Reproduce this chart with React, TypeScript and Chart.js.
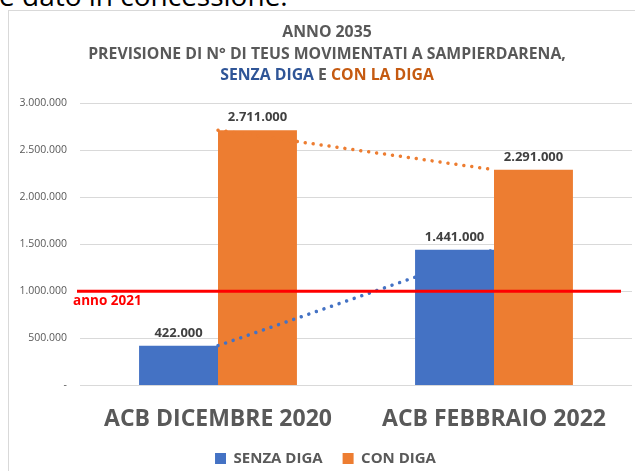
import React, { useEffect, useRef } from 'react';
import { Chart, registerables } from 'chart.js';

Chart.register(...registerables);

const categories = ['ACB DICEMBRE 2020', 'ACB FEBBRAIO 2022'];
const seriesNames = ['SENZA DIGA', 'CON DIGA'];
const senzaDiga = [422000, 1441000];
const conDiga = [2711000, 2291000];
const yTickLabels = ['-', '500.000', '1.000.000', '1.500.000', '2.000.000', '2.500.000', '3.000.000'];
const yMax = 3000000;
const yStep = 500000;
const refLineValue = 1000000;
const refLineLabel = 'anno 2021';
const titleLines = ['ANNO 2035', 'PREVISIONE DI N° DI TEUS MOVIMENTATI A SAMPIERDARENA,'];
const subtitleParts: [string, string][] = [
  ['SENZA DIGA', '#2F5597'],
  [' E ', '#595959'],
  ['CON LA DIGA', '#C55A11'],
];
const pageHeading = 'e dato in concessione.';

const FONT = "'Open Sans', 'DejaVu Sans', sans-serif";
const BLUE = '#4472C4';
const ORANGE = '#ED7D31';
const GRAY = '#595959';

function fmt(v: number): string {
  return String(Math.round(v)).replace(/\B(?=(\d{3})+(?!\d))/g, '.');
}

export default function App() {
  const ref = useRef<HTMLCanvasElement>(null);

  useEffect(() => {
    document.body.style.margin = '0';
    const canvas = ref.current;
    if (!canvas) return;

    const overlay = {
      id: 'overlay',
      afterDatasetsDraw(chart: any) {
        const ctx = chart.ctx;
        const { chartArea, scales } = chart;
        const y = scales.y.getPixelForValue(refLineValue);
        ctx.save();
        ctx.strokeStyle = '#FF0000';
        ctx.lineWidth = 3;
        ctx.beginPath();
        ctx.moveTo(chartArea.left - 3, y);
        ctx.lineTo(chartArea.right - 11, y);
        ctx.stroke();
        ctx.fillStyle = '#FF0000';
        ctx.font = `bold 13.5px ${FONT}`;
        ctx.textAlign = 'left';
        ctx.textBaseline = 'alphabetic';
        ctx.fillText(refLineLabel, chartArea.left - 7, y + 13.5);
        ctx.fillStyle = '#404040';
        ctx.font = `bold 13px ${FONT}`;
        ctx.textAlign = 'center';
        [0, 1].forEach((di) => {
          const meta = chart.getDatasetMeta(di);
          meta.data.forEach((bar: any, i: number) => {
            const val = chart.data.datasets[di].data[i] as number;
            ctx.fillText(fmt(val), bar.x, bar.y - 9);
          });
        });
        ctx.restore();
      },
      afterDraw(chart: any) {
        const ctx = chart.ctx;
        const cx = 318;
        ctx.save();
        ctx.textBaseline = 'alphabetic';
        ctx.font = `bold 15.8px ${FONT}`;
        ctx.fillStyle = GRAY;
        ctx.textAlign = 'center';
        const ys = [20.7, 42.3, 63];
        titleLines.forEach((t, i) => ctx.fillText(t, cx, ys[i] + 5.6));
        const widths = subtitleParts.map(([t]) => ctx.measureText(t).width);
        const total = widths.reduce((a, b) => a + b, 0);
        let x = cx - total / 2;
        ctx.textAlign = 'left';
        subtitleParts.forEach(([t, c], i) => {
          ctx.fillStyle = c;
          ctx.fillText(t, x, ys[2] + 5.6);
          x += widths[i];
        });
        ctx.restore();
      },
    };

    const chart = new Chart(canvas, {
      type: 'bar',
      data: {
        labels: categories,
        datasets: [
          {
            type: 'bar',
            label: seriesNames[0],
            data: senzaDiga,
            backgroundColor: BLUE,
            borderWidth: 0,
            order: 1,
            categoryPercentage: 0.572,
            barPercentage: 1,
          },
          {
            type: 'bar',
            label: seriesNames[1],
            data: conDiga,
            backgroundColor: ORANGE,
            borderWidth: 0,
            order: 3,
            categoryPercentage: 0.572,
            barPercentage: 1,
          },
          {
            type: 'line',
            label: 'trend1',
            data: senzaDiga,
            borderColor: BLUE,
            borderWidth: 3.5,
            borderDash: [0.01, 8],
            borderCapStyle: 'round',
            pointRadius: 0,
            fill: false,
            order: 2,
          },
          {
            type: 'line',
            label: 'trend2',
            data: conDiga,
            borderColor: ORANGE,
            borderWidth: 3.5,
            borderDash: [0.01, 8],
            borderCapStyle: 'round',
            pointRadius: 0,
            fill: false,
            order: 2,
          },
        ] as any,
      },
      options: {
        responsive: false,
        animation: false,
        layout: { padding: { top: 92, left: 10, right: 3, bottom: 2 } },
        plugins: {
          title: { display: false },
          tooltip: { enabled: false },
          legend: {
            position: 'bottom',
            labels: {
              filter: (item: any) => item.datasetIndex < 2,
              boxWidth: 11,
              boxHeight: 11,
              padding: 20,
              color: GRAY,
              font: { family: FONT, size: 15, weight: 'bold' },
            },
          },
        },
        scales: {
          x: {
            grid: { display: false },
            border: { display: false },
            ticks: {
              color: GRAY,
              font: { family: FONT, size: 23, weight: 'bold' },
              padding: 12,
              maxRotation: 0,
              autoSkip: false,
            },
            afterFit: (s: any) => {
              s.height = s.height - 14;
            },
          },
          y: {
            min: 0,
            max: yMax,
            grid: { color: '#D9D9D9', drawTicks: false, lineWidth: 1 },
            border: { display: false },
            ticks: {
              stepSize: yStep,
              padding: 13,
              color: GRAY,
              font: { family: FONT, size: 10.5 },
              callback: (v: any) => yTickLabels[Math.round(Number(v) / yStep)],
            },
            afterFit: (s: any) => {
              s.width = 61;
            },
          },
        },
      } as any,
      plugins: [overlay],
    });
    return () => chart.destroy();
  }, []);

  return (
    <div style={{ position: 'relative', width: 635, height: 471, overflow: 'hidden', background: '#fff' }}>
      <div
        style={{
          position: 'absolute',
          left: -1,
          top: -21,
          fontFamily: FONT,
          fontSize: 28,
          lineHeight: '32px',
          color: '#000',
          whiteSpace: 'nowrap',
        }}
      >
        {pageHeading}
      </div>
      <div
        style={{
          position: 'absolute',
          left: 8,
          top: 10,
          width: 700,
          height: 500,
          borderLeft: '1px solid #D9D9D9',
          borderTop: '1px solid #D9D9D9',
        }}
      />
      <canvas
        ref={ref}
        width={626}
        height={467}
        style={{ position: 'absolute', left: 9, top: 11, width: 626, height: 467 }}
      />
    </div>
  );
}
